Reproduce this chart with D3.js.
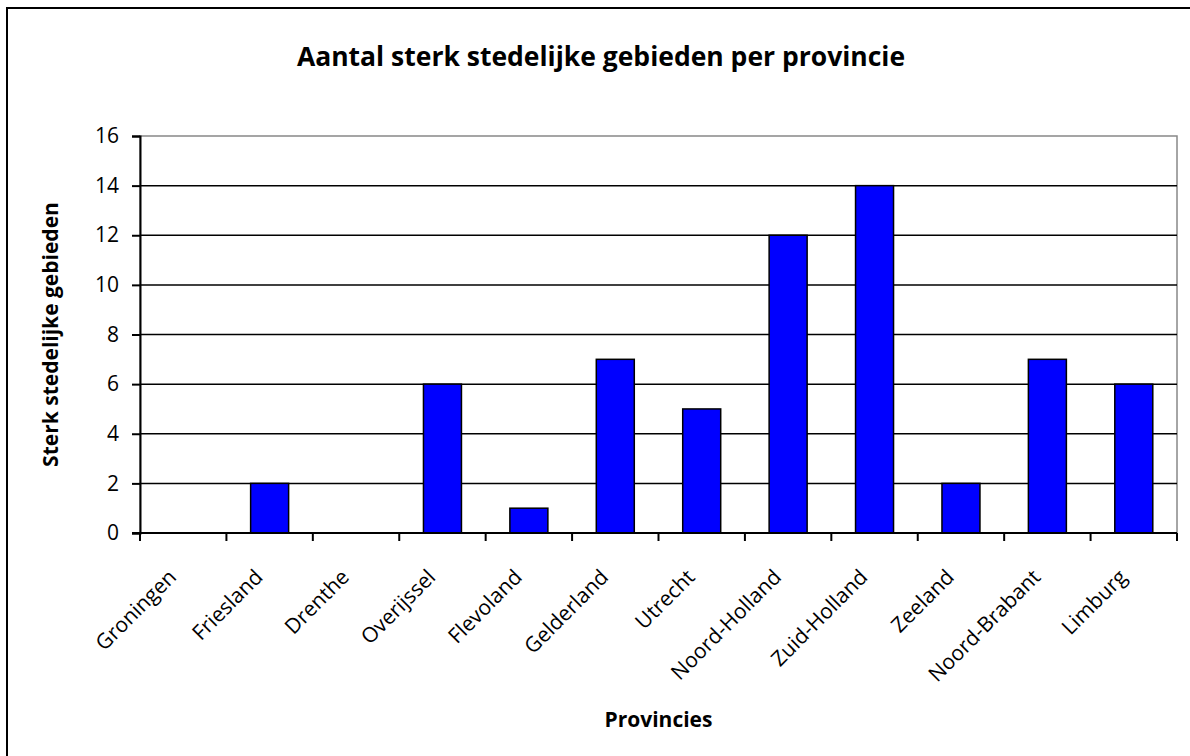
<!DOCTYPE html>
<html>
<head>
<meta charset="utf-8">
<script src="https://cdn.jsdelivr.net/npm/d3@7"></script>
<style>
  html, body { margin: 0; padding: 0; background: #fff; }
  svg { display: block; font-family: "Open Sans", Lato, sans-serif; }
</style>
</head>
<body>
<svg id="chart" width="1190" height="756"></svg>
<script>
// Provinces and the number of strongly urban areas in each
const provinces = ["Groningen", "Friesland", "Drenthe", "Overijssel", "Flevoland", "Gelderland",
                   "Utrecht", "Noord-Holland", "Zuid-Holland", "Zeeland", "Noord-Brabant", "Limburg"];
const counts = [0, 2, 0, 6, 1, 7, 5, 12, 14, 2, 7, 6];
const yTicks = [0, 2, 4, 6, 8, 10, 12, 14, 16];

const titleText = "Aantal sterk stedelijke gebieden per provincie";
const xTitle = "Provincies";
const yTitle = "Sterk stedelijke gebieden";

const svg = d3.select("#chart");
const plot = { left: 140, right: 1177, top: 136, bottom: 533 };
const fontFamily = "'Open Sans', Lato, sans-serif";

// outer chart frame (right and bottom edges fall outside the canvas)
svg.append("rect")
  .attr("x", 7).attr("y", 8).attr("width", 1220).attr("height", 800)
  .attr("fill", "#fff").attr("stroke", "#000").attr("stroke-width", 2);

const x = d3.scaleBand().domain(provinces).range([plot.left, plot.right]).paddingInner(0).paddingOuter(0);
const y = d3.scaleLinear().domain([0, 16]).range([plot.bottom, plot.top]);

// plot area border (grey top/right)
svg.append("rect")
  .attr("x", plot.left).attr("y", plot.top)
  .attr("width", plot.right - plot.left).attr("height", plot.bottom - plot.top)
  .attr("fill", "none").attr("stroke", "#888").attr("stroke-width", 1.5);

// horizontal gridlines
svg.append("g").selectAll("line")
  .data(yTicks.filter(t => t > 0 && t < 16))
  .join("line")
  .attr("x1", plot.left).attr("x2", plot.right)
  .attr("y1", d => y(d)).attr("y2", d => y(d))
  .attr("stroke", "#000").attr("stroke-width", 1.5);

// bars
const barW = 38;
svg.append("g").selectAll("rect")
  .data(provinces.map((p, i) => ({ p, v: counts[i] })).filter(d => d.v > 0))
  .join("rect")
  .attr("x", d => x(d.p) + x.bandwidth() / 2 - barW / 2)
  .attr("width", barW)
  .attr("y", d => y(d.v))
  .attr("height", d => y(0) - y(d.v))
  .attr("fill", "#0000ff").attr("stroke", "#000").attr("stroke-width", 1.5);

// y axis
const yAxis = svg.append("g")
  .attr("transform", `translate(${plot.left},0)`)
  .call(d3.axisLeft(y).tickValues(yTicks).tickSize(8).tickPadding(13).tickFormat(d3.format("d")));
yAxis.select(".domain").attr("stroke", "#000").attr("stroke-width", 2);
yAxis.selectAll(".tick line").attr("stroke", "#000").attr("stroke-width", 2);
yAxis.selectAll(".tick text").attr("font-size", 21).attr("fill", "#000")
  .attr("font-family", fontFamily);

// x axis: ticks on category boundaries
const boundaries = provinces.map(p => x(p)).concat([plot.right]);
svg.append("line")
  .attr("x1", plot.left - 8).attr("x2", plot.right)
  .attr("y1", plot.bottom).attr("y2", plot.bottom)
  .attr("stroke", "#000").attr("stroke-width", 2);
svg.append("g").selectAll("line")
  .data(boundaries)
  .join("line")
  .attr("x1", d => d).attr("x2", d => d)
  .attr("y1", plot.bottom).attr("y2", plot.bottom + 8)
  .attr("stroke", "#000").attr("stroke-width", 2);

// rotated category labels
svg.append("g").selectAll("text")
  .data(provinces)
  .join("text")
  .attr("transform", d => `translate(${x(d) + x.bandwidth() / 2 - 16},${plot.bottom + 35}) rotate(-45)`)
  .attr("text-anchor", "end")
  .attr("dy", "0.7em")
  .attr("font-size", 21)
  .attr("fill", "#000")
  .text(d => d);

// titles
svg.append("text")
  .attr("x", 601).attr("y", 66)
  .attr("text-anchor", "middle")
  .attr("font-size", 26.5).attr("font-weight", "bold")
  .text(titleText);

svg.append("text")
  .attr("x", (plot.left + plot.right) / 2).attr("y", 727)
  .attr("text-anchor", "middle")
  .attr("font-size", 21).attr("font-weight", "bold")
  .text(xTitle);

svg.append("text")
  .attr("transform", `translate(58,${(plot.top + plot.bottom) / 2}) rotate(-90)`)
  .attr("text-anchor", "middle")
  .attr("font-size", 21).attr("font-weight", "bold")
  .text(yTitle);
</script>
</body>
</html>
